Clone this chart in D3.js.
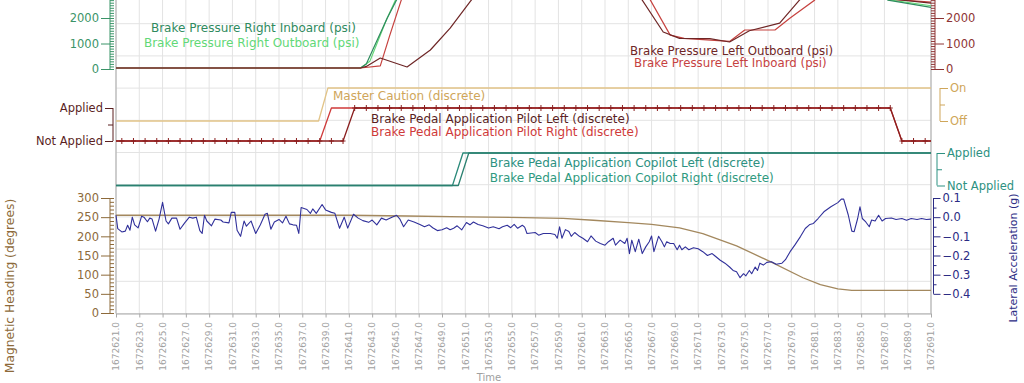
<!DOCTYPE html>
<html><head><meta charset="utf-8">
<script src="https://cdn.jsdelivr.net/npm/d3@7"></script>
<style>
html,body{margin:0;padding:0;background:#fff;}
svg{display:block;font-family:"DejaVu Sans",Verdana,sans-serif;}
</style></head><body>
<svg id="c" width="1024" height="383"></svg>
<script>
// ---------------- DATA ----------------
const T0 = 1672621;               // time origin (s)
const xTickOffsets = d3.range(0, 71, 2);   // tick every 2 s
const pressureTickLabels = [0, 1000, 2000];

// Brake pressures (psi), times are seconds after T0
const riT = [0, 21.0, 21.5, 22.3, 23.3, 24.2, 25.0, 65.5, 66.3, 70];
const riV = [40, 40, 200, 1000, 2000, 2800, 3300, 3300, 2700, 2420];
const roT = [0, 21.0, 21.8, 22.5, 23.2, 24.0, 24.8, 65.5, 66.3, 70];
const roV = [40, 40, 300, 1100, 1900, 2700, 3300, 3300, 2720, 2480];
const loT = [0, 21.0, 21.5, 22.7, 25.0, 27.0, 28.7, 30.4, 31.5, 44.0, 45.2, 47.0, 48.4, 51.0, 52.7, 54.4, 57.0, 58.7, 60.0, 65.5, 66.3, 70];
const loV = [40, 40, 100, 430, 80, 745, 1600, 2630, 3300, 3300, 2700, 1450, 1200, 1190, 1060, 1500, 1800, 2700, 3300, 3300, 2760, 2580];
const liT = [0, 21.0, 22.7, 23.5, 24.5, 25.2, 45.0, 45.9, 47.6, 48.8, 52.7, 54.0, 56.6, 57.9, 60.0, 61.0, 65.5, 66.3, 70];
const liV = [40, 40, 120, 1300, 2700, 3300, 3300, 2700, 1330, 1200, 1080, 1530, 1530, 2000, 2700, 3300, 3300, 2750, 2620];

// Discretes
const mcT = [0, 17.4, 18.2, 70];          // Master Caution
const mcV = [0, 0, 1, 1];
const pilotSampleT = d3.range(0.5, 70, 1); // one sample per second
const pilotLeft  = [0,0,0,0,0,0,0,0,0,0, 0,0,0,0,0,0,0,0,0,0, 1,1,1,1,1,1,1,1,1,1, 1,1,1,1,1,1,1,1,1,1, 1,1,1,1,1,1,1,1,1,1, 1,1,1,1,1,1,1,1,1,1, 1,1,1,1,1,1,1,0,0,0];
const pilotRight = [0,0,0,0,0,0,0,0,0,0, 0,0,0,0,0,0,0,0,1,1, 1,1,1,1,1,1,1,1,1,1, 1,1,1,1,1,1,1,1,1,1, 1,1,1,1,1,1,1,1,1,1, 1,1,1,1,1,1,1,1,1,1, 1,1,1,1,1,1,1,0,0,0];
const coLT = [0, 29.4, 30.3, 70];
const coLV = [0, 0, 1, 1];
const coRT = [0, 28.9, 29.8, 70];
const coRV = [0, 0, 1, 1];

// Magnetic heading (deg)
const hdgT = [0, 10, 20, 25, 30, 35, 38.4, 41, 44, 46, 48.4, 50.4, 53.3, 56.2, 59.0, 60.5, 62.0, 63.2, 70];
const hdgV = [255, 255, 255, 253, 251, 249, 247, 242, 236, 231, 222, 207, 175, 134, 92, 74, 63, 59, 59];

// Lateral acceleration (g)
const latT = [0,0.15,0.5,0.8,1.0,1.2,1.4,1.6,1.9,2.2,2.4,2.7,2.9,3.1,3.4,3.7,4.0,4.3,4.5,4.8,5.2,5.5,5.9,6.3,6.6,6.9,7.2,7.4,7.6,7.8,8.2,8.5,9.0,9.2,9.7,9.9,10.2,10.4,10.7,11.0,11.2,11.6,12.0,12.4,12.8,13.0,13.3,13.6,14.0,14.3,14.6,14.9,15.2,15.5,15.7,15.9,16.4,16.7,16.9,17.2,17.7,18.0,18.5,18.8,19.2,19.6,19.9,20.4,20.8,21.2,21.7,22.0,22.4,22.8,23.2,23.7,24.1,24.4,24.7,25.1,25.6,26.1,26.5,26.9,27.2,27.6,28.0,28.4,28.7,29.0,29.3,29.7,30.1,30.4,30.7,31.1,31.5,32.0,32.4,32.9,33.2,33.6,33.9,34.2,34.5,34.9,35.1,35.3,36.0,36.3,36.7,37.3,37.7,37.9,38.1,38.3,38.6,38.9,39.1,39.4,39.8,40.1,40.5,40.8,41.2,41.6,42.0,42.3,42.7,42.9,43.3,43.7,43.9,44.1,44.3,44.6,44.9,45.2,45.5,45.8,46.0,46.2,46.6,46.9,47.1,47.3,47.6,47.9,48.2,48.4,48.6,48.9,49.2,49.6,50.0,50.4,50.8,51.2,51.4,51.9,52.3,52.7,53.0,53.3,53.6,53.9,54.1,54.4,54.6,54.9,55.1,55.3,55.6,55.9,56.3,56.7,57.2,57.5,57.9,58.3,58.8,59.2,59.6,59.9,60.3,60.8,61.4,62.0,62.3,62.5,62.9,63.2,63.4,63.7,63.9,64.1,64.4,64.7,64.9,65.2,65.5,65.8,66.1,66.6,67.0,67.5,67.9,68.3,68.8,69.2,69.6,70.0];
const latV = [0.01,-0.06,-0.077,-0.073,-0.042,-0.068,0.0,-0.04,-0.056,0.005,0.0,-0.024,-0.005,-0.01,-0.073,-0.01,0.077,-0.02,-0.035,-0.005,-0.005,-0.063,-0.03,0.0,-0.005,0.0,-0.07,-0.085,0.01,-0.02,-0.045,-0.01,-0.015,-0.025,-0.03,0.025,0.025,-0.068,-0.1,-0.02,-0.047,-0.02,-0.085,-0.04,0.015,0.02,-0.063,-0.025,-0.012,-0.03,0.005,-0.035,-0.04,-0.042,-0.085,0.05,0.04,0.02,0.043,0.02,0.066,0.038,0.025,0.02,-0.058,0.0,-0.057,0.015,-0.005,-0.018,-0.027,-0.015,-0.04,-0.005,-0.015,0.0,0.01,-0.012,-0.05,-0.015,-0.025,-0.038,-0.05,-0.04,-0.055,-0.07,-0.066,-0.055,-0.066,-0.058,-0.045,-0.066,-0.028,-0.04,-0.025,-0.038,-0.045,-0.057,-0.05,-0.06,-0.05,-0.042,-0.055,-0.038,-0.058,-0.042,-0.052,-0.085,-0.08,-0.094,-0.085,-0.085,-0.09,-0.11,-0.05,-0.11,-0.065,-0.075,-0.1,-0.08,-0.1,-0.11,-0.128,-0.098,-0.125,-0.137,-0.146,-0.128,-0.11,-0.146,-0.12,-0.137,-0.11,-0.19,-0.12,-0.18,-0.115,-0.19,-0.155,-0.128,-0.098,-0.18,-0.1,-0.13,-0.155,-0.128,-0.137,-0.137,-0.17,-0.146,-0.17,-0.155,-0.17,-0.16,-0.165,-0.18,-0.2,-0.19,-0.2,-0.225,-0.24,-0.26,-0.278,-0.285,-0.316,-0.295,-0.306,-0.278,-0.295,-0.26,-0.278,-0.24,-0.25,-0.236,-0.233,-0.246,-0.24,-0.222,-0.18,-0.146,-0.1,-0.059,-0.038,-0.033,-0.007,0.028,0.054,0.076,0.094,0.094,0.01,-0.073,-0.076,-0.007,0.054,-0.007,-0.025,-0.05,-0.015,-0.02,0.01,-0.02,-0.007,-0.004,-0.012,-0.007,-0.016,-0.007,-0.012,-0.007,-0.012,-0.01];

// ---------------- LAYOUT ----------------
const svg = d3.select("#c");
const plotL = 116, plotR = 931, plotT = -8.5, plotB = 313.5;
const FONT = 11.5, LEG = 12;

const x = d3.scaleLinear().domain([T0, T0 + 70]).range([plotL, plotR]);
const gridY = d3.scaleLinear().domain([0, 10]).range([plotB, plotT]);
const yP = d3.scaleLinear().domain([0, 2000]).range([69, 18]);
const yMC = d3.scaleLinear().domain([0, 1]).range([121, 88]);
const yPilot = d3.scaleLinear().domain([0, 1]).range([141, 108]);
const yCo = d3.scaleLinear().domain([0, 1]).range([185.5, 153]);
const yHdg = d3.scaleLinear().domain([0, 300]).range([313, 198]);
const yLat = d3.scaleLinear().domain([-0.5, 0.1]).range([313, 198]);

const C = {
  grid: "#e3e3e3", border: "#a9a9a9", tick: "#a0a0a0",
  ri: "#2f8a5e", ro: "#62d877", lo: "#6e2626", li: "#c6423f",
  pAxisL: "#3b9468", pAxisR: "#8e3434",
  mc: "#e2c488", mcText: "#cfa65a",
  pl: "#8a1f1f", plText: "#5b1f1f", pr: "#cf3a3a",
  co: "#2b8a7a", coText: "#2d9181",
  hdg: "#a3885e", hdgText: "#8d6a3a",
  lat: "#30309a", latText: "#2b2b84"
};

// grid
const gGrid = svg.append("g");
gGrid.selectAll("line.h").data(d3.range(0, 11)).join("line")
  .attr("x1", plotL).attr("x2", plotR)
  .attr("y1", d => gridY(d)).attr("y2", d => gridY(d))
  .attr("stroke", C.grid).attr("stroke-width", 1);
gGrid.selectAll("line.v").data(xTickOffsets).join("line")
  .attr("x1", d => x(T0 + d)).attr("x2", d => x(T0 + d))
  .attr("y1", plotT).attr("y2", plotB)
  .attr("stroke", C.grid).attr("stroke-width", 1);

// border
svg.append("line").attr("x1", plotL).attr("x2", plotL).attr("y1", plotT).attr("y2", plotB).attr("stroke", C.border);
svg.append("line").attr("x1", plotR).attr("x2", plotR).attr("y1", plotT).attr("y2", plotB).attr("stroke", C.border);

// x axis
const xAxis = d3.axisBottom(x).tickValues(xTickOffsets.map(d => T0 + d)).tickSize(4).tickFormat("").tickSizeOuter(0);
const gx = svg.append("g").attr("transform", `translate(0,${plotB})`).call(xAxis);
gx.selectAll("path,line").attr("stroke", C.border);
svg.append("g").selectAll("text").data(xTickOffsets).join("text")
  .attr("transform", d => `translate(${x(T0 + d) + 3.3},322) rotate(-90)`)
  .attr("text-anchor", "end").attr("font-size", 9).attr("fill", C.tick)
  .text(d => d3.format(".1f")(T0 + d));
svg.append("text").attr("x", 489).attr("y", 381).attr("text-anchor", "middle")
  .attr("font-size", 10).attr("fill", C.tick).text("Time");

// generic vertical axis helper
function vAxis(scale, xPos, side, majors, labelled, minors, lo, hi, color, fmt, majorLen, minorLen, minorSide) {
  const g = svg.append("g").attr("transform", `translate(${xPos},0)`);
  const mk = side === "left" ? d3.axisLeft : d3.axisRight;
  const mn = minorSide === "left" ? d3.axisLeft : d3.axisRight;
  g.append("g").call(mn(scale).tickValues(minors).tickSize(minorLen).tickFormat("").tickSizeOuter(0))
    .call(s => s.select(".domain").remove())
    .selectAll("line").attr("stroke", color);
  const gm = g.append("g").call(mk(scale).tickValues(majors).tickSize(majorLen).tickPadding(2)
    .tickFormat(d => labelled.includes(d) ? fmt(d) : "").tickSizeOuter(0));
  gm.select(".domain").remove();
  gm.selectAll("line").attr("stroke", color);
  gm.selectAll("text").attr("fill", color).attr("font-size", FONT).attr("font-family", '"DejaVu Sans",Verdana,sans-serif');
  g.append("line").attr("x1", 0).attr("x2", 0).attr("y1", scale(lo)).attr("y2", scale(hi)).attr("stroke", color);
  return g;
}

// Pressure axes
vAxis(yP, 110, "left", [0, 1000, 2000, 3000], pressureTickLabels, d3.range(0, 3401, 100), 0, 3400, C.pAxisL, d3.format("d"), 9, 4, "right");
vAxis(yP, 935, "right", [0, 1000, 2000, 3000], pressureTickLabels, d3.range(0, 3401, 100), 0, 3400, C.pAxisR, d3.format("d"), 9, 4, "left");
// Heading / lateral axes
const hdgTicks = d3.range(0, 301, 50);
vAxis(yHdg, 110, "left", hdgTicks, hdgTicks, d3.range(0, 301, 10), 0, 300, C.hdgText, d3.format("d"), 9, 4, "right");
const latTicks = [-0.4, -0.3, -0.2, -0.1, 0.0, 0.1];
vAxis(yLat, 933.5, "right", latTicks, latTicks, [-0.35, -0.25, -0.15, -0.05, 0.05], -0.4, 0.1, C.latText, d3.format(".1f"), 7, 3, "right");

// bracket axes for discretes
function bracket(scale, xPos, side, labels, color) {
  const g = svg.append("g").attr("transform", `translate(${xPos},0)`);
  const mk = side === "left" ? d3.axisLeft : d3.axisRight;
  const gm = g.append("g").call(mk(scale).tickValues([0, 1]).tickSize(8).tickPadding(2).tickFormat(d => labels[d]).tickSizeOuter(0));
  gm.select(".domain").remove();
  gm.selectAll("line").attr("stroke", color);
  gm.selectAll("text").attr("fill", color).attr("font-size", FONT).attr("font-family", '"DejaVu Sans",Verdana,sans-serif');
  g.append("g").call(mk(scale).tickValues([0.5]).tickSize(5).tickFormat("").tickSizeOuter(0))
    .call(s => s.select(".domain").remove()).selectAll("line").attr("stroke", color);
  g.append("line").attr("y1", scale(0)).attr("y2", scale(1)).attr("stroke", color);
}
bracket(yPilot, 113, "left", ["Not Applied", "Applied"], C.plText);
bracket(yMC, 940, "right", ["Off", "On"], C.mcText);
bracket(yCo, 937, "right", ["Not Applied", "Applied"], C.coText);

// titles
svg.append("text").attr("transform", "translate(14,286) rotate(-90)").attr("text-anchor", "middle")
  .attr("font-size", 12.3).attr("fill", C.hdgText).text("Magnetic Heading (degrees)");
svg.append("text").attr("transform", "translate(1017,258) rotate(-90)").attr("text-anchor", "middle")
  .attr("font-size", 11).attr("fill", C.latText).text("Lateral Acceleration (g)");

// ---------------- SERIES ----------------
const gData = svg.append("g");
function series(ts, vs, scale, color, w) {
  const pts = ts.map((t, i) => [T0 + t, vs[i]]);
  gData.append("path").datum(pts)
    .attr("d", d3.line().x(d => x(d[0])).y(d => scale(d[1])))
    .attr("fill", "none").attr("stroke", color).attr("stroke-width", w || 1.2)
    .attr("stroke-linejoin", "round");
}
series(hdgT, hdgV, yHdg, C.hdg, 1.3);
series(latT, latV, yLat, C.lat, 1.1);

series(roT, roV, yP, C.ro, 1.2);
series(riT, riV, yP, C.ri, 1.2);
series(liT, liV, yP, C.li, 1.2);
series(loT, loV, yP, C.lo, 1.2);

series(mcT, mcV, yMC, C.mc, 1.3);
series(coRT, coRV, yCo, C.co, 1.3);
series(coLT, coLV, yCo, "#2a8070", 1.3);

const prT = [0, ...pilotSampleT, 70];
series(prT, [pilotRight[0], ...pilotRight, pilotRight[69]], yPilot, C.pr, 1.3);
series(prT, [pilotLeft[0], ...pilotLeft, pilotLeft[69]], yPilot, C.pl, 1.3);
gData.append("g").selectAll("path").data(pilotSampleT).join("path")
  .attr("transform", (t, i) => `translate(${x(T0 + t)},${yPilot(pilotLeft[i])})`)
  .attr("d", "M-2.5,0H2.5M0,-3V3").attr("stroke", C.pl).attr("stroke-width", 1);

// ---------------- LABELS ----------------
function label(t, y, txt, color, size) {
  svg.append("text").attr("x", x(T0 + t)).attr("y", y).attr("font-size", size || LEG).attr("fill", color).text(txt);
}
label(3.0, 32, "Brake Pressure Right Inboard (psi)", C.ri);
label(2.4, 47, "Brake Pressure Right Outboard (psi)", C.ro);
label(44.15, 54.5, "Brake Pressure Left Outboard (psi)", C.lo, 11.8);
label(44.5, 66.5, "Brake Pressure Left Inboard (psi)", C.li, 11.8);
label(18.64, 100, "Master Caution (discrete)", C.mcText);
label(21.9, 123, "Brake Pedal Application Pilot Left (discrete)", C.plText);
label(21.9, 136, "Brake Pedal Application Pilot Right (discrete)", C.pr);
label(32.1, 167, "Brake Pedal Application Copilot Left (discrete)", C.coText);
label(32.1, 182, "Brake Pedal Application Copilot Right (discrete)", "#2f9a80");
</script>
</body></html>
